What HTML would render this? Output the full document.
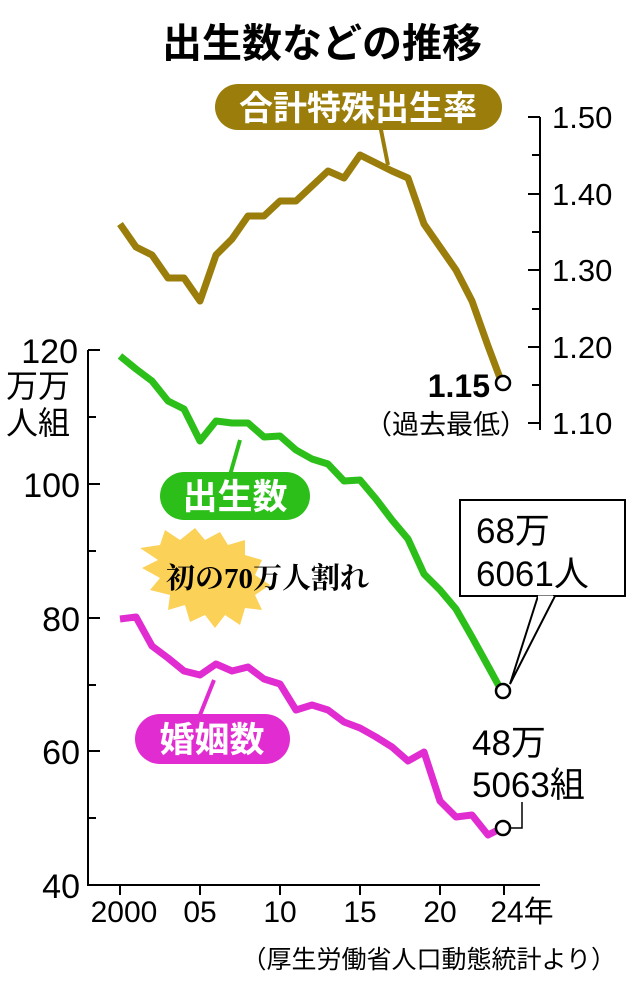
<!DOCTYPE html><html><head><meta charset="utf-8"><style>body{margin:0;background:#fff}svg{display:block}text{font-family:"Liberation Sans","Noto Sans CJK JP",sans-serif}</style></head><body>
<svg width="640" height="986" viewBox="0 0 640 986" xmlns="http://www.w3.org/2000/svg">
<text x="322" y="57" font-size="40" font-weight="bold" text-anchor="middle">出生数などの推移</text>
<g stroke="#000" stroke-width="2" fill="none">
<path d="M88 350V885H540"/>
<path d="M88 350h12M88 417h8M88 484h12M88 551h8M88 618h12M88 685h8M88 751h12M88 818h8"/>
<path d="M120 885v10M200 885v10M280 885v10M360 885v10M440 885v10M504 885v10"/>
<path d="M540 117V430M528 117h12M532 155h8M528 194h12M532 232h8M528 270h12M532 309h8M528 347h12M532 385h8M528 423h12"/>
</g>
<g font-size="34" text-anchor="end"><text x="78" y="363">120</text><text x="80" y="497">100</text><text x="80" y="631">80</text><text x="80" y="764">60</text><text x="80" y="898">40</text></g>
<text x="6" y="397" font-size="32">万万</text><text x="6" y="434" font-size="32">人組</text>
<g font-size="30" text-anchor="middle"><text x="124" y="922">2000</text><text x="200" y="922">05</text><text x="280" y="922">10</text><text x="360" y="922">15</text><text x="440" y="922">20</text><text x="522" y="922">24年</text></g>
<g font-size="31"><text x="552" y="128">1.50</text><text x="552" y="205">1.40</text><text x="552" y="281">1.30</text><text x="552" y="358">1.20</text><text x="552" y="434">1.10</text></g>
<text x="616" y="968" font-size="25" text-anchor="end">（厚生労働省人口動態統計より）</text>
<g fill="none" stroke-width="7" stroke-linejoin="round">
<polyline stroke="#9a7d0a" points="120,224 136,247 152,255 168,278 184,278 200,301 216,255 232,239 248,216 264,216 280,201 296,201 312,186 328,171 344,178 360,155 376,163 392,171 408,178 424,224 440,247 456,270 472,301 488,346 500,378"/>
<polyline stroke="#2cbf1a" points="120,356 136,369 152,381 168,401 184,409 200,441 216,421 232,423 248,423 264,437 280,436 296,450 312,459 328,464 344,481 360,480 376,499 392,520 408,539 424,574 440,590 456,609 472,637 488,666 500,688"/>
<polyline stroke="#e02cd0" points="120,619 136,617 152,646 168,658 184,671 200,675 216,664 232,671 248,667 264,679 280,684 296,710 312,705 328,710 344,722 360,728 376,737 392,747 408,761 424,752 440,801 456,817 472,815 488,835 498,830"/>
</g>
<g fill="#fff" stroke="#000" stroke-width="2.5"><circle cx="503" cy="383" r="7"/><circle cx="503" cy="691" r="7"/><circle cx="503" cy="828" r="7"/></g>
<path d="M380 125L388 165" stroke="#9a7d0a" stroke-width="4"/>
<rect x="215" y="84" width="287" height="46" rx="23" fill="#9a7d0a"/>
<text x="358" y="120" font-size="34" font-weight="bold" fill="#fff" text-anchor="middle">合計特殊出生率</text>
<text x="490" y="397" font-size="32" font-weight="bold" text-anchor="end">1.15</text>
<text x="446" y="434" font-size="27" text-anchor="middle">（過去最低）</text>
<path d="M230 475L240 440" stroke="#2cbf1a" stroke-width="4"/>
<rect x="160" y="472" width="150" height="48" rx="24" fill="#2cbf1a"/>
<text x="235" y="509" font-size="35" font-weight="bold" fill="#fff" text-anchor="middle">出生数</text>
<path d="M200 715L214 680" stroke="#e02cd0" stroke-width="4"/>
<rect x="135" y="714" width="155" height="50" rx="25" fill="#e02cd0"/>
<text x="212" y="752" font-size="35" font-weight="bold" fill="#fff" text-anchor="middle">婚姻数</text>
<polygon fill="#fcd157" points="140,548 160,545 165,530 180,540 195,528 205,540 220,532 228,545 245,540 245,555 262,560 255,575 270,585 255,595 262,610 245,608 240,625 225,615 215,628 205,615 190,622 185,605 168,610 170,595 150,590 160,578 142,568 158,560"/>
<text x="166" y="588" font-size="29" font-weight="bold" style="font-family:'Liberation Serif','Noto Serif CJK SC',serif">初の70万人割れ</text>
<rect x="460" y="500" width="165" height="96" fill="#fff" stroke="#000" stroke-width="2"/>
<path d="M538 596L510 684L555 596" fill="#fff" stroke="#000" stroke-width="2"/>
<path d="M538 597H553" stroke="#fff" stroke-width="3"/>
<text x="476" y="543" font-size="35">68万</text><text x="476" y="586" font-size="35">6061人</text>
<text x="472" y="755" font-size="35">48万</text><text x="472" y="797" font-size="35">5063組</text>
<path d="M510 828H522V802" stroke="#000" stroke-width="1.5" fill="none"/>
</svg></body></html>
